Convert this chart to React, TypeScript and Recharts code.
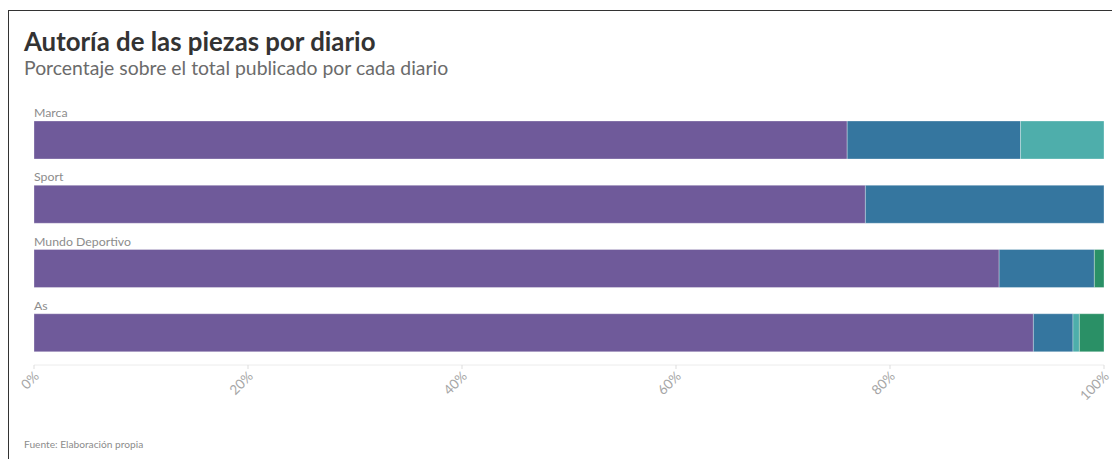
import { BarChart, Bar, XAxis, YAxis, LabelList } from 'recharts'

const diarios = ['Marca', 'Sport', 'Mundo Deportivo', 'As']
const redaccion = [76.0, 77.7, 90.2, 93.4]
const agencias = [16.2, 22.3, 8.9, 3.7]
const colaboradores = [7.8, 0, 0, 0.6]
const otros = [0, 0, 0.9, 2.3]
const xTicks = [0, 20, 40, 60, 80, 100]

const COLORS = ['#6f5a9a', '#35769f', '#4eaeab', '#2a9066']
const FONT = 'Lato, "Open Sans", sans-serif'

const data = diarios.map((name, i) => ({
  name,
  redaccion: redaccion[i],
  agencias: agencias[i],
  colaboradores: colaboradores[i],
  otros: otros[i]
}))

// nombre del diario encima de cada barra
const CategoryLabel = (props: any) => {
  const { x, y, value } = props
  return (
    <text x={x} y={y - 4} fill="#8c8c8c" fontSize={12.3} fontFamily={FONT}>
      {value}
    </text>
  )
}

const PercentTick = (props: any) => {
  const { x, y, payload } = props
  const tx = x + 6
  const ty = y + 6
  return (
    <text
      x={tx}
      y={ty}
      textAnchor="end"
      fill="#a6a6a6"
      fontSize={13.5}
      fontFamily={FONT}
      transform={`rotate(-45, ${tx}, ${ty})`}
    >
      {`${payload.value}%`}
    </text>
  )
}

export default function App() {
  const keys = ['redaccion', 'agencias', 'colaboradores', 'otros']
  return (
    <div style={{ position: 'relative', width: 1112, height: 451, fontFamily: FONT }}>
      <div
        style={{
          position: 'absolute',
          left: 0,
          top: 2,
          width: 1200,
          height: 500,
          borderLeft: '1px solid #333',
          borderTop: '1px solid #333'
        }}
      />
      <div style={{ position: 'absolute', left: 16, top: 18, fontSize: 25.8, fontWeight: 700, color: '#333', whiteSpace: 'nowrap' }}>
        Autoría de las piezas por diario
      </div>
      <div style={{ position: 'absolute', left: 16, top: 48, fontSize: 19.4, color: '#6b6b6b', whiteSpace: 'nowrap' }}>
        Porcentaje sobre el total publicado por cada diario
      </div>
      <div style={{ position: 'absolute', left: 16, top: 430, fontSize: 10.2, color: '#8c8c8c', whiteSpace: 'nowrap' }}>
        Fuente: Elaboración propia
      </div>
      <div style={{ position: 'absolute', left: 0, top: 0 }}>
        <BarChart
          width={1112}
          height={451}
          data={data}
          layout="vertical"
          margin={{ top: 100, right: 16, bottom: 34, left: 26 }}
          barSize={38}
        >
          <XAxis
            type="number"
            domain={[0, 100]}
            ticks={xTicks}
            interval={0}
            axisLine={{ stroke: '#ececec' }}
            tickLine={{ stroke: '#dddddd' }}
            tickSize={4}
            height={60}
            tick={<PercentTick />}
          />
          <YAxis type="category" dataKey="name" hide />
          {keys.map((k, i) => (
            <Bar
              key={k}
              dataKey={k}
              stackId="a"
              fill={COLORS[i]}
              stroke="#ffffff"
              strokeOpacity={0.3}
              strokeWidth={1}
              isAnimationActive={false}
            >
              {i === 0 && <LabelList dataKey="name" content={<CategoryLabel />} />}
            </Bar>
          ))}
        </BarChart>
      </div>
    </div>
  )
}
